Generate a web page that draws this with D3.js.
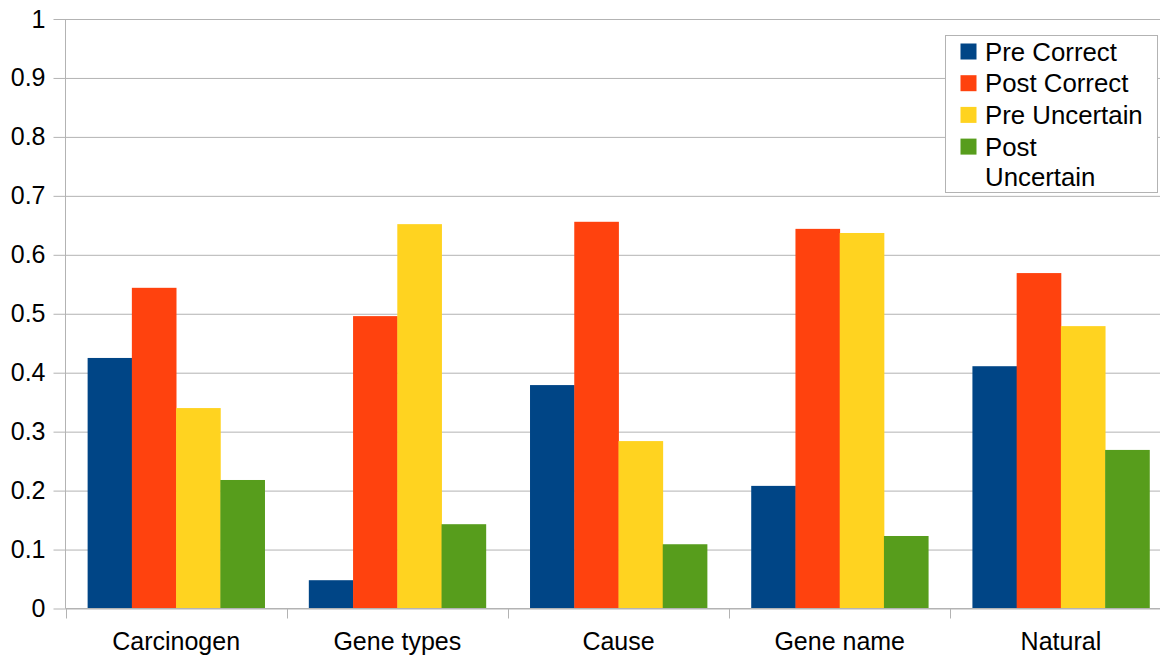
<!DOCTYPE html>
<html>
<head>
<meta charset="utf-8">
<script src="https://cdn.jsdelivr.net/npm/d3@7"></script>
<style>
  body { margin: 0; background: #fff; }
  svg { display: block; font-family: "Liberation Sans", Arial, sans-serif; }
  .axis text { font-size: 25px; fill: #000; }
  .axis path, .axis line { stroke: #b3b3b3; }
</style>
</head>
<body>
<svg id="chart" width="1160" height="658"></svg>
<script>
// data
const categories = ["Carcinogen", "Gene types", "Cause", "Gene name", "Natural"];
const seriesNames = ["Pre Correct", "Post Correct", "Pre Uncertain", "Post Uncertain"];
const preCorrect = [0.425, 0.048, 0.379, 0.208, 0.411];
const postCorrect = [0.544, 0.496, 0.656, 0.644, 0.569];
const preUncertain = [0.340, 0.652, 0.284, 0.637, 0.479];
const postUncertain = [0.218, 0.143, 0.109, 0.123, 0.269];
const yTicks = [0, 0.1, 0.2, 0.3, 0.4, 0.5, 0.6, 0.7, 0.8, 0.9, 1];
const colors = ["#004586", "#ff420e", "#ffd320", "#579d1c"];

const seriesValues = [preCorrect, postCorrect, preUncertain, postUncertain];

const svg = d3.select("#chart");

// plot box (the right edge runs past the window, as in the original)
const plotLeft = 65.5, plotRight = 1171.5, plotTop = 19, plotBottom = 608.5;

const x0 = d3.scaleBand().domain(categories).range([plotLeft, plotRight]).padding(0);
const x1 = d3.scaleBand().domain(seriesNames)
    .range([x0.bandwidth() * 0.1, x0.bandwidth() * 0.9]).padding(0);
const y = d3.scaleLinear().domain([0, 1]).range([plotBottom, plotTop]);

// gridlines
svg.append("g")
    .attr("class", "axis grid")
    .attr("transform", `translate(${plotLeft},0)`)
    .call(d3.axisLeft(y).tickValues(yTicks).tickSize(-(plotRight - plotLeft)).tickFormat(""))
    .call(g => g.select(".domain").remove());

// y axis with labels
svg.append("g")
    .attr("class", "axis")
    .attr("transform", `translate(${plotLeft},0)`)
    .call(d3.axisLeft(y).tickValues(yTicks).tickSize(12).tickPadding(8)
      .tickFormat(d => d3.format("")(+d.toFixed(1))))
    .call(g => g.select(".domain").attr("d", `M0,${plotTop}V${plotBottom}`));

// bars
const rows = categories.map((c, i) => ({
  cat: c,
  vals: seriesNames.map((s, j) => ({ key: s, value: seriesValues[j][i], color: colors[j] }))
}));

svg.append("g")
  .selectAll("g")
  .data(rows)
  .join("g")
    .attr("transform", d => `translate(${x0(d.cat)},0)`)
  .selectAll("rect")
  .data(d => d.vals)
  .join("rect")
    .attr("x", d => x1(d.key))
    .attr("width", x1.bandwidth() + 0.4)
    .attr("y", d => y(d.value))
    .attr("height", d => y(0) - y(d.value))
    .attr("fill", d => d.color);

// x axis
const xAxis = d3.axisBottom(x0).tickSize(0).tickPadding(24);
const xg = svg.append("g")
    .attr("class", "axis")
    .attr("transform", `translate(0,${plotBottom})`)
    .call(xAxis);
xg.select(".domain").attr("d", `M${plotLeft},0H${plotRight}`);
// category separators
xg.selectAll(".sep")
  .data(categories)
  .join("line")
    .attr("class", "sep")
    .attr("x1", d => Math.round(x0(d)) + 0.5)
    .attr("x2", d => Math.round(x0(d)) + 0.5)
    .attr("y1", 0)
    .attr("y2", 10)
    .attr("stroke", "#b3b3b3");

// legend
const legend = svg.append("g").attr("transform", "translate(945.5,35.5)");
legend.append("rect")
    .attr("width", 212)
    .attr("height", 157)
    .attr("fill", "#fff")
    .attr("stroke", "#b3b3b3");

const legendLabels = [["Pre Correct"], ["Post Correct"], ["Pre Uncertain"], ["Post", "Uncertain"]];
const item = legend.selectAll(".item")
  .data(seriesNames)
  .join("g")
    .attr("class", "item")
    .attr("transform", (d, i) => `translate(0,${25 + i * 31.7})`);

item.append("rect")
    .attr("x", 15)
    .attr("y", -17)
    .attr("width", 16)
    .attr("height", 16)
    .attr("fill", (d, i) => colors[i]);

item.append("text")
    .attr("x", 39.5)
    .style("font-size", "25.8px")
    .attr("fill", "#000")
  .selectAll("tspan")
  .data((d, i) => legendLabels[i])
  .join("tspan")
    .attr("x", 39.5)
    .attr("dy", (d, k) => k === 0 ? 0 : 30.5)
    .text(d => d);
</script>
</body>
</html>
